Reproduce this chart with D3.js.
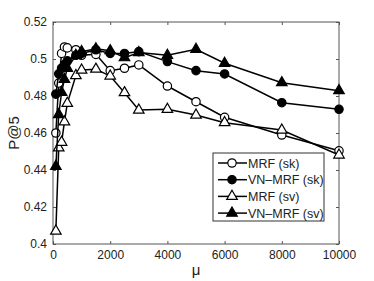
<!DOCTYPE html>
<html>
<head>
<meta charset="utf-8">
<script src="https://cdn.jsdelivr.net/npm/d3@7"></script>
<style>
  html, body { margin: 0; padding: 0; background: #fff; }
  svg { display: block; font-family: "Liberation Sans", Arial, sans-serif; }
</style>
</head>
<body>
<svg id="chart"></svg>
<script>
const WIDTH = 374;
const HEIGHT = 281;
const MARGIN = { top: 22, right: 35, bottom: 37, left: 53 };

const MU = [100, 200, 300, 400, 500, 800, 1000, 1500, 2000, 2500, 3000, 4000, 5000, 6000, 8000, 10000];
const MRF_SK = [0.460, 0.487, 0.503, 0.5065, 0.506, 0.505, 0.502, 0.5025, 0.4937, 0.495, 0.4968, 0.4854, 0.4769, 0.4685, 0.4589, 0.4504];
const VN_MRF_SK = [0.481, 0.492, 0.495, 0.497, 0.499, 0.502, 0.503, 0.505, 0.503, 0.503, 0.504, 0.4986, 0.4937, 0.4919, 0.4764, 0.4728];
const MRF_SV = [0.407, 0.452, 0.455, 0.466, 0.476, 0.491, 0.494, 0.4945, 0.4908, 0.4818, 0.4724, 0.4728, 0.4697, 0.4656, 0.4616, 0.4481];
const VN_MRF_SV = [0.442, 0.470, 0.482, 0.489, 0.495, 0.502, 0.504, 0.5055, 0.5045, 0.5007, 0.5035, 0.502, 0.5052, 0.4977, 0.4872, 0.4829];

const X_TICKS = [0, 2000, 4000, 6000, 8000, 10000];
const Y_TICKS = [0.4, 0.42, 0.44, 0.46, 0.48, 0.5, 0.52];

const SERIES = [
  { name: "MRF (sk)", values: MRF_SK, shape: "circle", filled: false },
  { name: "VN\u2013MRF (sk)", values: VN_MRF_SK, shape: "circle", filled: true },
  { name: "MRF (sv)", values: MRF_SV, shape: "triangle", filled: false },
  { name: "VN\u2013MRF (sv)", values: VN_MRF_SV, shape: "triangle", filled: true }
];

const innerWidth = WIDTH - MARGIN.left - MARGIN.right;
const innerHeight = HEIGHT - MARGIN.top - MARGIN.bottom;

const x = d3.scaleLinear().domain([0, 10000]).range([0, innerWidth]);
const y = d3.scaleLinear().domain([0.4, 0.52]).range([innerHeight, 0]);

const svg = d3.select("#chart").attr("width", WIDTH).attr("height", HEIGHT);
const g = svg.append("g").attr("transform", `translate(${MARGIN.left},${MARGIN.top})`);

// axes, ticks inward, box all round
const fmtY = (d) => String(+d.toFixed(2));
const xAxis = g.append("g").attr("transform", `translate(0,${innerHeight})`)
  .call(d3.axisBottom(x).tickValues(X_TICKS).tickSize(-3).tickPadding(6).tickFormat(d3.format("d")));
const xTop = g.append("g").call(d3.axisTop(x).tickValues(X_TICKS).tickSize(-3).tickFormat(""));
const yAxis = g.append("g")
  .call(d3.axisLeft(y).tickValues(Y_TICKS).tickSize(-3).tickPadding(6).tickFormat(fmtY));
const yRight = g.append("g").attr("transform", `translate(${innerWidth},0)`)
  .call(d3.axisRight(y).tickValues(Y_TICKS).tickSize(-3).tickFormat(""));

[xAxis, xTop, yAxis, yRight].forEach((a) => {
  a.selectAll(".domain").remove();
  a.selectAll(".tick line").attr("stroke", "#555");
  a.selectAll("text").attr("fill", "#222").style("font-size", "12px");
});

g.append("rect")
  .attr("x", 0).attr("y", 0)
  .attr("width", innerWidth).attr("height", innerHeight)
  .attr("fill", "none").attr("stroke", "#555").attr("stroke-width", 1);

// axis labels
svg.append("text")
  .attr("transform", `translate(19,${MARGIN.top + innerHeight / 2}) rotate(-90)`)
  .attr("text-anchor", "middle")
  .style("font-size", "15px")
  .attr("fill", "#222")
  .text("P@5");

svg.append("text")
  .attr("x", MARGIN.left + innerWidth / 2)
  .attr("y", 275)
  .attr("text-anchor", "middle")
  .style("font-size", "15px")
  .attr("fill", "#222")
  .text("\u03bc");

const circleSym = d3.symbol().type(d3.symbolCircle).size(55);
const triSym = d3.symbol().type(d3.symbolTriangle).size(48);

const drawMarker = (sel, s) => {
  sel.append("path")
    .attr("d", s.shape === "circle" ? circleSym() : triSym())
    .attr("fill", s.filled ? "#000" : "#fff")
    .attr("stroke", "#000")
    .attr("stroke-width", 1.2);
};

const line = d3.line().x((d) => x(d[0])).y((d) => y(d[1]));

SERIES.forEach((s) => {
  const pts = MU.map((m, i) => [m, s.values[i]]);
  g.append("path")
    .datum(pts)
    .attr("fill", "none")
    .attr("stroke", "#000")
    .attr("stroke-width", 1.5)
    .attr("d", line);
  pts.forEach((p) => {
    const m = g.append("g").attr("transform", `translate(${x(p[0])},${y(p[1])})`);
    drawMarker(m, s);
  });
});

// legend
const legend = svg.append("g").attr("transform", "translate(213,153)");
legend.append("rect")
  .attr("width", 111).attr("height", 68)
  .attr("fill", "#fff").attr("stroke", "#333").attr("stroke-width", 1);

SERIES.forEach((s, i) => {
  const row = legend.append("g").attr("transform", `translate(0,${10 + i * 16.7})`);
  row.append("line")
    .attr("x1", 5).attr("x2", 34)
    .attr("stroke", "#000").attr("stroke-width", 1.5);
  const m = row.append("g").attr("transform", "translate(19,0)");
  drawMarker(m, s);
  row.append("text")
    .attr("x", 35).attr("y", 4.5)
    .style("font-size", "12.5px")
    .attr("fill", "#222")
    .text(s.name);
});
</script>
</body>
</html>
